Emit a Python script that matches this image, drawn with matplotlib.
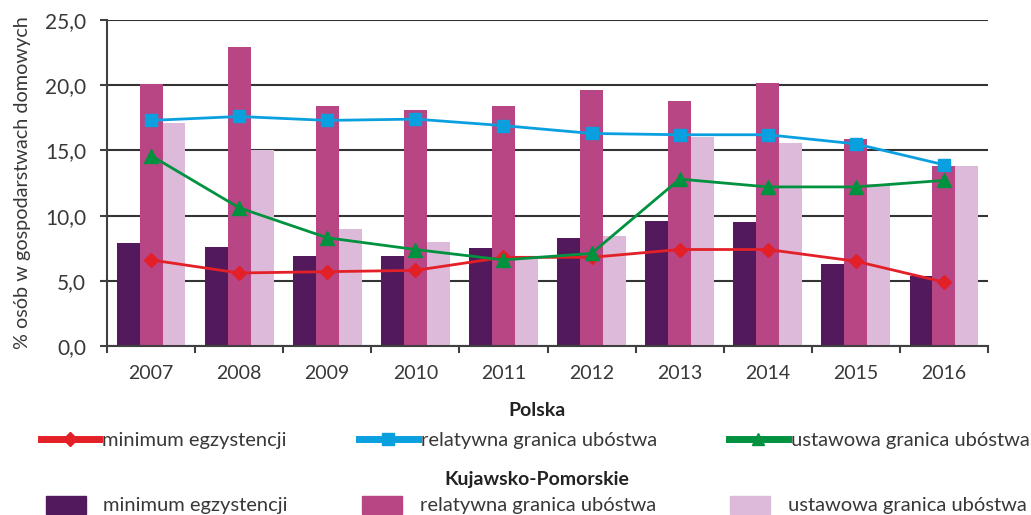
import matplotlib
matplotlib.use("Agg")
import matplotlib.pyplot as plt
import numpy as np
from matplotlib.lines import Line2D
from matplotlib.patches import Patch

years = ["2007", "2008", "2009", "2010", "2011", "2012", "2013", "2014", "2015", "2016"]

# Kujawsko-Pomorskie (bars)
kp_minimum = [7.9, 7.6, 6.9, 6.9, 7.5, 8.3, 9.6, 9.5, 6.3, 5.4]
kp_relatywna = [20.1, 22.9, 18.4, 18.1, 18.4, 19.6, 18.8, 20.2, 15.9, 13.8]
kp_ustawowa = [17.1, 15.0, 9.0, 8.0, 6.9, 8.4, 16.0, 15.6, 12.4, 13.8]

# Polska (lines)
pl_minimum = [6.6, 5.6, 5.7, 5.8, 6.8, 6.8, 7.4, 7.4, 6.5, 4.9]
pl_relatywna = [17.3, 17.6, 17.3, 17.4, 16.9, 16.3, 16.2, 16.2, 15.5, 13.9]
pl_ustawowa = [14.6, 10.6, 8.3, 7.4, 6.6, 7.1, 12.8, 12.2, 12.2, 12.7]

labels = ["minimum egzystencji", "relatywna granica ubóstwa", "ustawowa granica ubóstwa"]
yticks = [0, 5, 10, 15, 20, 25]
ytick_labels = ["0,0", "5,0", "10,0", "15,0", "20,0", "25,0"]

c_dark = "#521a5c"
c_mag = "#b84584"
c_light = "#ddbad9"
c_red = "#e32028"
c_blue = "#0aa0e0"
c_green = "#00923f"
c_text = "#383838"

plt.rcParams['font.family'] = ['Lato', 'DejaVu Sans']
plt.rcParams['font.size'] = 14

fig = plt.figure(figsize=(10.31, 5.15), dpi=100)
ax = fig.add_axes([107/1031, 1-346/515, 881/1031, 326/515])

x = np.arange(len(years))
w = 0.26
ax.bar(x - w, kp_minimum, w, color=c_dark, zorder=2)
ax.bar(x, kp_relatywna, w, color=c_mag, zorder=2)
ax.bar(x + w, kp_ustawowa, w, color=c_light, zorder=2)

ax.plot(x, pl_minimum, color=c_red, lw=2, marker="D", ms=7.5, zorder=3)
ax.plot(x, pl_relatywna, color=c_blue, lw=2, marker="s", ms=8.5, zorder=3)
ax.plot(x, pl_ustawowa, color=c_green, lw=2, marker="^", ms=9.5, zorder=3)

ax.set_xlim(-0.5, len(years) - 0.5)
ax.set_ylim(0, 25)
ax.set_yticks(yticks)
ax.set_yticklabels(ytick_labels)
ax.set_xticks(x)
ax.set_xticklabels(years)
ax.set_xticks(np.arange(len(years) + 1) - 0.5, minor=True)
ax.tick_params(axis="x", which="major", length=0, pad=14, colors=c_text, labelsize=14)
ax.tick_params(axis="x", which="minor", length=5, width=1.5, color="#404040")
ax.tick_params(axis="y", length=5, width=1.5, color="#404040", pad=10, colors=c_text, labelsize=15)
ax.yaxis.grid(True, color="#333333", lw=1.5, zorder=1)
ax.set_axisbelow(True)
for s in ["top", "right"]:
    ax.spines[s].set_visible(False)
for s in ["left", "bottom"]:
    ax.spines[s].set_color("#404040")
    ax.spines[s].set_linewidth(1.5)
ax.set_ylabel("% osób w gospodarstwach domowych", color=c_text, fontsize=14.3)
ax.yaxis.set_label_coords(-0.086, 0.5)

# legend: Polska
fig.text(537/1031, 1-411/515, "Polska", ha="center", va="center", fontweight="bold",
         color="#222222", fontsize=14)
h1 = [Line2D([], [], color=c_red, lw=5, marker="D", ms=7),
      Line2D([], [], color=c_blue, lw=5, marker="s", ms=9),
      Line2D([], [], color=c_green, lw=5, marker="^", ms=9)]
fig.legend(h1, labels, loc="center", bbox_to_anchor=(535/1031, 1-440/515), ncol=3,
           frameon=False, handlelength=2.9, handletextpad=0.15, columnspacing=3.6,
           labelcolor=c_text, fontsize=14.5, borderpad=0)

# legend: Kujawsko-Pomorskie
fig.text(537/1031, 1-479/515, "Kujawsko-Pomorskie", ha="center", va="center",
         fontweight="bold", color="#222222", fontsize=14)
h2 = [Patch(color=c_dark), Patch(color=c_mag), Patch(color=c_light)]
fig.legend(h2, labels, loc="center", bbox_to_anchor=(536/1031, 1-505/515), ncol=3,
           frameon=False, handlelength=2.0, handleheight=1.0, handletextpad=0.85,
           columnspacing=3.7, labelcolor=c_text, fontsize=14.5, borderpad=0)

fig.savefig("out.png", dpi=100)
